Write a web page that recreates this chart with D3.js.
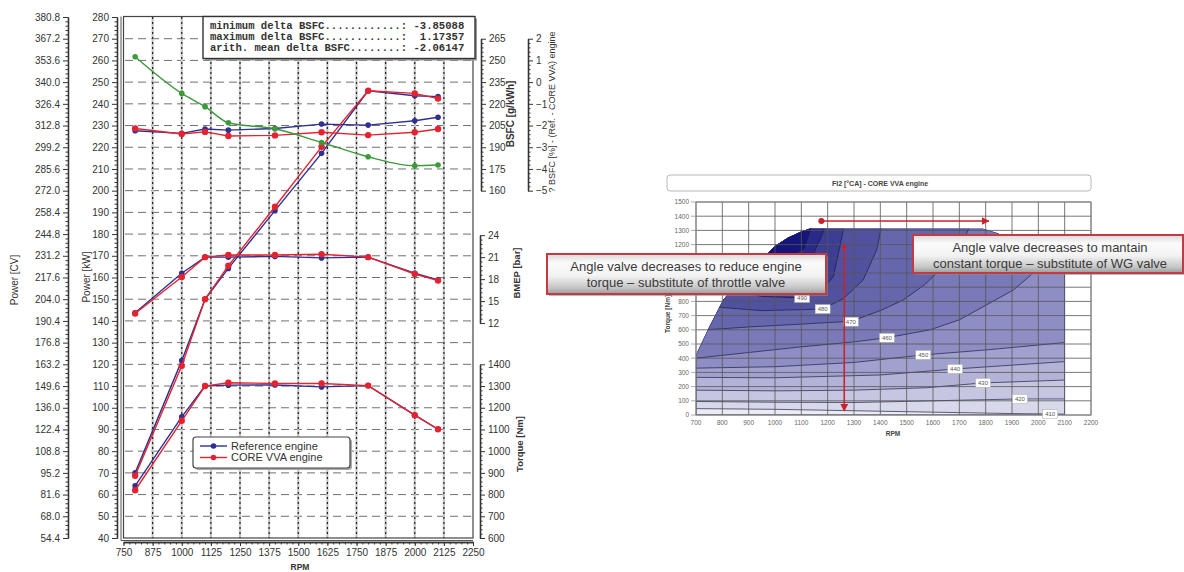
<!DOCTYPE html>
<html><head><meta charset="utf-8">
<script src="https://cdn.jsdelivr.net/npm/d3@7"></script>
<style>
html,body{margin:0;padding:0;background:#fff;}
svg{display:block;font-family:"Liberation Sans",Arial,sans-serif;}
</style></head><body>
<svg id="c" width="1184" height="572"></svg>
<script>
// ---------------- DATA (left chart) ----------------
const rpm = [800, 1000, 1100, 1200, 1400, 1600, 1800, 2000, 2100];
const powerRef = [70.0, 121.7, 150.0, 164.2, 190.8, 217.2, 246.0, 243.7, 243.3];
const powerVVA = [68.7, 119.3, 150.0, 165.4, 192.6, 220.2, 246.0, 244.8, 242.4];
const torqueRef = [840, 1158, 1300, 1304, 1305, 1296, 1302, 1166, 1101];
const torqueVVA = [820, 1140, 1300, 1315, 1312, 1312, 1302, 1166, 1101];
const bmepRef = [13.4, 18.8, 21.0, 21.0, 21.1, 20.9, 21.0, 18.8, 17.9];
const bmepVVA = [13.3, 18.3, 21.0, 21.3, 21.3, 21.4, 21.0, 18.7, 17.8];
const bsfcRef = [201.4, 199.6, 202.6, 201.8, 203.0, 206.0, 205.3, 208.3, 210.7];
const bsfcVVA = [203.0, 199.2, 200.6, 197.8, 198.2, 200.4, 198.4, 200.4, 202.6];
const deltaBsfc = [1.17, -0.52, -1.13, -1.87, -2.15, -2.78, -3.44, -3.85, -3.82];

const rpmTicks = [750, 875, 1000, 1125, 1250, 1375, 1500, 1625, 1750, 1875, 2000, 2125, 2250];
const kwTicks = [40,50,60,70,80,90,100,110,120,130,140,150,160,170,180,190,200,210,220,230,240,250,260,270,280];
const cvTicks = [54.4,68.0,81.6,95.2,108.8,122.4,136.0,149.6,163.2,176.8,190.4,204.0,217.6,231.2,244.8,258.4,272.0,285.6,299.2,312.8,326.4,340.0,353.6,367.2,380.8];
const bsfcTicks = [160,175,190,205,220,235,250,265];
const deltaTicks = [-5,-4,-3,-2,-1,0,1,2];
const bmepTicks = [12,15,18,21,24];
const torqueTicks = [600,700,800,900,1000,1100,1200,1300,1400];

const statsLines = [
  "minimum delta BSFC............: -3.85088",
  "maximum delta BSFC............:  1.17357",
  "arith. mean delta BSFC........: -2.06147"
];
const legendNames = ["Reference engine", "CORE VVA engine"];

// ---------------- DATA (right chart) ----------------
const mapRpmTicks = [700,800,900,1000,1100,1200,1300,1400,1500,1600,1700,1800,1900,2000,2100,2200];
const mapTorqueTicks = [0,100,200,300,400,500,600,700,800,900,1000,1100,1200,1300,1400,1500];
// tick labels hidden under the annotation box in the reference
const hiddenTorqueLabels = [900,1000,1100];
const envelope = [[700,0],[700,425],[750,620],[803,810],[850,915],[900,1010],[950,1100],[1000,1190],[1050,1250],[1100,1292],[1130,1312],[1790,1312],[1843,1282],[1900,1235],[2000,1170],[2100,1100],[2100,0]];
const levels = [410,420,430,440,450,460,470,480,490,500,510];
const contour410 = [[700,45],[1000,40],[1300,30],[1600,20],[1900,10],[2100,6]];
const contour420 = [[700,95],[1000,90],[1300,88],[1600,100],[1930,113],[2100,113]];
const contour430 = [[700,175],[1000,170],[1300,175],[1576,192],[1790,226],[2100,246]];
const contour440 = [[700,265],[1000,262],[1400,282],[1684,324],[2100,376]];
const contour450 = [[700,330],[1000,340],[1300,370],[1563,423],[1800,458],[2100,510]];
const contour460 = [[700,400],[900,440],[1100,480],[1300,515],[1425,544],[1589,600],[1700,670],[1791,763],[1905,880],[1994,1021],[2060,1150],[2090,1320]];
const contour470 = [[740,600],[900,620],[1100,640],[1288,660],[1400,735],[1487,810],[1570,920],[1639,1045],[1700,1180],[1728,1280],[1740,1330]];
const contour480 = [[780,760],[950,735],[1181,746],[1260,820],[1335,951],[1386,1162],[1405,1330]];
const contour490 = [[830,880],[950,835],[1103,824],[1171,868],[1222,974],[1253,1244],[1262,1330]];
const contour500 = [[880,980],[1000,970],[1095,1045],[1150,1150],[1184,1290],[1190,1330]];
const contour510 = [[950,1100],[1050,1110],[1110,1170],[1140,1330]];
const contours = [contour410,contour420,contour430,contour440,contour450,contour460,contour470,contour480,contour490,contour500,contour510];
const contourLabels = [[490,1103,824],[480,1181,746],[470,1288,657],[460,1425,544],[450,1563,423],[440,1684,324],[430,1790,226],[420,1930,113],[410,2045,6]];
const mapTitle = "FI2 [°CA] - CORE VVA engine";
const noteLeft = ["Angle valve decreases to reduce engine", "torque – substitute of throttle valve"];
const noteRight = ["Angle valve decreases to mantain", "constant torque – substitute of WG valve"];
const arrowH = [[1176,1366],[1812,1366]];
const arrowV = [[1263,1183],[1263,28]];

// ---------------- DRAW ----------------
const svg = d3.select("#c");
const FONT = "'Liberation Sans', Arial, sans-serif";
const defs = svg.append("defs");

const x = d3.scaleLinear().domain([750,2250]).range([123.5,473]);
const yKW = d3.scaleLinear().domain([40,280]).range([538,17]);
const yCV = d3.scaleLinear().domain([54.4,380.8]).range([538,17]);
const yBSFC = d3.scaleLinear().domain([160,265]).range([yKW(200), yKW(270)]);
const yDelta = d3.scaleLinear().domain([-5,2]).range([yKW(200), yKW(270)]);
const yBMEP = d3.scaleLinear().domain([12,24]).range([yKW(139), yKW(179.5)]);
const yTq = d3.scaleLinear().domain([600,1400]).range([yKW(40), yKW(120)]);

// grid
const gGrid = svg.append("g");
gGrid.selectAll("line.h").data(kwTicks.slice(1,-1)).join("line").attr("class","h")
  .attr("x1",125).attr("x2",473).attr("y1",d=>yKW(d)).attr("y2",d=>yKW(d))
  .attr("stroke","#707070").attr("stroke-width",1).attr("stroke-dasharray","8,5");
gGrid.selectAll("line.v").data(rpmTicks.slice(1,-1)).join("line").attr("class","v")
  .attr("x1",d=>x(d)).attr("x2",d=>x(d)).attr("y1",17).attr("y2",538)
  .attr("stroke","#c4c4c4").attr("stroke-width",2.2);
gGrid.selectAll("line.v2").data(rpmTicks.slice(1,-1)).join("line").attr("class","v2")
  .attr("x1",d=>x(d)).attr("x2",d=>x(d)).attr("y1",17).attr("y2",538)
  .attr("stroke","#222").attr("stroke-width",1.2).attr("stroke-dasharray","2,3");

// frame
svg.append("rect").attr("x",123.5).attr("y",16.5).attr("width",473-123.5).attr("height",538-16.5)
  .attr("fill","none").attr("stroke","#444").attr("stroke-width",1.2);
svg.append("line").attr("x1",121).attr("x2",121).attr("y1",16.5).attr("y2",540.5).attr("stroke","#555").attr("stroke-width",1);
svg.append("line").attr("x1",121).attr("x2",473).attr("y1",540.5).attr("y2",540.5).attr("stroke","#555").attr("stroke-width",1);

function styleAxis(g, fs){
  g.attr("font-family",FONT).attr("font-size",fs);
  g.selectAll("path.domain").attr("stroke","#333").attr("stroke-width",1.3);
  g.selectAll("line").attr("stroke","#333");
  g.selectAll("text").attr("fill","#333");
}
function vAxis(scale, xPos, major, nSub, orient, fmt, fs){
  const g = svg.append("g").attr("transform",`translate(${xPos},0)`);
  const minor = [];
  for(let i=0;i<major.length-1;i++){
    for(let k=1;k<nSub;k++) minor.push(major[i]+(major[i+1]-major[i])*k/nSub);
  }
  const mk = orient==="left" ? d3.axisLeft : d3.axisRight;
  g.append("g").call(mk(scale).tickValues(minor).tickSize(2.5).tickSizeOuter(0).tickFormat(""));
  g.append("g").call(mk(scale).tickValues(major).tickSize(5).tickSizeOuter(0).tickFormat(fmt).tickPadding(3));
  styleAxis(g, fs);
  return g;
}
vAxis(yCV, 68, cvTicks, 5, "left", d3.format(".1f"), 10);
vAxis(yKW, 117, kwTicks, 5, "left", d3.format("d"), 10);
vAxis(yBSFC, 481, bsfcTicks, 5, "right", d3.format("d"), 9);
vAxis(yDelta, 528, deltaTicks, 5, "right", d3.format("d"), 9);
vAxis(yBMEP, 480, bmepTicks, 5, "right", d3.format("d"), 10);
vAxis(yTq, 480, torqueTicks, 5, "right", d3.format("d"), 10);

// x axis
const gx = svg.append("g").attr("transform","translate(0,542)");
gx.append("g").call(d3.axisBottom(x).tickValues(d3.range(750,2251,25)).tickSize(2.5).tickSizeOuter(0).tickFormat(""));
gx.append("g").call(d3.axisBottom(x).tickValues(rpmTicks).tickSize(4).tickSizeOuter(0).tickFormat(d3.format("d")).tickPadding(3));
styleAxis(gx, 9.5);

// axis titles
function vTitle(txt, cx, cy, fs, weight){
  svg.append("text").attr("transform",`translate(${cx},${cy}) rotate(-90)`)
    .attr("text-anchor","middle").attr("dominant-baseline","middle")
    .attr("font-family",FONT).attr("font-size",fs).attr("font-weight",weight||"normal")
    .attr("fill","#333").text(txt);
}
vTitle("Power [CV]", 15, 280, 10);
vTitle("Power [kW]", 87, 277, 10);
vTitle("BSFC [g/kWh]", 511, 114, 10, "bold");
vTitle("? BSFC [%] - (Ref. - CORE VVA) engine", 553, 112, 9);
vTitle("BMEP [bar]", 517, 273, 9.5, "bold");
vTitle("Torque [Nm]", 520, 444, 9.5, "bold");
svg.append("text").attr("x",300).attr("y",570).attr("text-anchor","middle")
  .attr("font-family",FONT).attr("font-size",8.5).attr("font-weight","bold").attr("fill","#333").text("RPM");

// series
const gS = svg.append("g");
const BLUE = "#2e3192", RED = "#e32430", GREEN = "#3c9a3c";
function series(vals, yS, color, r, curve){
  const pts = rpm.map((v,i)=>[x(v), yS(vals[i])]);
  gS.append("path").attr("d", d3.line().curve(curve||d3.curveLinear)(pts))
    .attr("fill","none").attr("stroke",color).attr("stroke-width",1.4);
  gS.append("g").selectAll("circle").data(pts).join("circle")
    .attr("cx",d=>d[0]).attr("cy",d=>d[1]).attr("r",r).attr("fill",color);
}
series(powerRef, yKW, BLUE, 2.8);
series(torqueRef, yTq, BLUE, 2.8);
series(bmepRef, yBMEP, BLUE, 2.8);
series(bsfcRef, yBSFC, BLUE, 2.8);
series(powerVVA, yKW, RED, 3.2);
series(torqueVVA, yTq, RED, 3.2);
series(bmepVVA, yBMEP, RED, 3.2);
series(bsfcVVA, yBSFC, RED, 3.2);
series(deltaBsfc, yDelta, GREEN, 2.8, d3.curveMonotoneX);

// stats box
const gB = svg.append("g");
gB.append("rect").attr("x",205).attr("y",18.5).attr("width",272).attr("height",42).attr("fill","#999");
gB.append("rect").attr("x",203).attr("y",16.5).attr("width",272).attr("height",42)
  .attr("fill","#fff").attr("stroke","#333").attr("stroke-width",1.4);
gB.selectAll("text").data(statsLines).join("text")
  .attr("x",210).attr("y",(d,i)=>29+i*11)
  .attr("font-family","'Liberation Mono','DejaVu Sans Mono',monospace").attr("font-size",10.6)
  .attr("font-weight","bold").attr("fill","#333").attr("xml:space","preserve").style("white-space","pre")
  .text(d=>d);

// legend
const gL = svg.append("g");
gL.append("rect").attr("x",195).attr("y",439).attr("width",157).attr("height",31).attr("rx",3).attr("fill","#aaa");
gL.append("rect").attr("x",193).attr("y",437).attr("width",157).attr("height",31).attr("rx",3)
  .attr("fill","#fff").attr("stroke","#444").attr("stroke-width",1.2);
[BLUE, RED].forEach((c,i)=>{
  const yy = 446 + i*11.5;
  gL.append("line").attr("x1",200).attr("x2",227).attr("y1",yy).attr("y2",yy).attr("stroke",c).attr("stroke-width",1.4);
  gL.append("circle").attr("cx",213.5).attr("cy",yy).attr("r",2.8).attr("fill",c);
  gL.append("text").attr("x",231).attr("y",yy+3.8).attr("font-family",FONT).attr("font-size",11)
    .attr("fill","#333").text(legendNames[i]);
});

// ---------------- RIGHT CHART ----------------
const xR = d3.scaleLinear().domain([700,2200]).range([696,1091]);
const yR = d3.scaleLinear().domain([0,1500]).range([415,202]);
const lineR = d3.line().x(d=>xR(d[0])).y(d=>yR(d[1]));

// title box
svg.append("rect").attr("x",667).attr("y",175).attr("width",424).attr("height",16).attr("rx",3)
  .attr("fill","#fff").attr("stroke","#b8b8b8").attr("stroke-width",1);
svg.append("text").attr("x",880).attr("y",185.5).attr("text-anchor","middle")
  .attr("font-family",FONT).attr("font-size",7).attr("font-weight","bold").attr("fill","#444").text(mapTitle);

defs.append("clipPath").attr("id","env").append("path").attr("d", lineR(envelope)+"Z");
const ramp = d3.scaleLinear().domain([0,0.45,1]).range(["#ebebf4","#8f8fc6","#15157a"]).interpolate(d3.interpolateRgb);
const gC = svg.append("g").attr("clip-path","url(#env)");
gC.append("rect").attr("x",696).attr("y",202).attr("width",395).attr("height",213).attr("fill",ramp(0));
contours.forEach((c,i)=>{
  const first = c[0], last = c[c.length-1];
  const poly = c.concat([[last[0],1700],[600,1700],[600,first[1]]]);
  gC.append("path").attr("d", lineR(poly)+"Z").attr("fill", ramp((i+1)/levels.length));
});
contours.forEach(c=>{
  gC.append("path").attr("d", lineR(c)).attr("fill","none").attr("stroke","#1a1a40").attr("stroke-width",0.9).attr("stroke-opacity",0.75);
});
gC.append("path").attr("d", lineR(envelope)+"Z").attr("fill","none").attr("stroke","#2a2a70").attr("stroke-width",1);

// grid
const gRG = svg.append("g");
gRG.selectAll("line.v").data(mapRpmTicks).join("line").attr("class","v")
  .attr("x1",d=>xR(d)).attr("x2",d=>xR(d)).attr("y1",202).attr("y2",415)
  .attr("stroke","#555").attr("stroke-width",0.8);
gRG.selectAll("line.h").data(mapTorqueTicks).join("line").attr("class","h")
  .attr("x1",696).attr("x2",1091).attr("y1",d=>yR(d)).attr("y2",d=>yR(d))
  .attr("stroke","#555").attr("stroke-width",0.8);
svg.append("rect").attr("x",696).attr("y",202).attr("width",395).attr("height",213)
  .attr("fill","none").attr("stroke","#888").attr("stroke-width",1);

// ticks & labels
const gRT = svg.append("g").attr("font-family",FONT).attr("font-size",6.5).attr("fill","#666");
gRT.selectAll("text.y").data(mapTorqueTicks.filter(d=>!hiddenTorqueLabels.includes(d))).join("text").attr("class","y")
  .attr("x",689).attr("y",d=>yR(d)+2.3).attr("text-anchor","end").text(d=>d);
gRT.selectAll("line.yt").data(mapTorqueTicks).join("line").attr("class","yt")
  .attr("x1",691).attr("x2",696).attr("y1",d=>yR(d)).attr("y2",d=>yR(d)).attr("stroke","#888").attr("stroke-width",0.7);
gRT.selectAll("text.x").data(mapRpmTicks).join("text").attr("class","x")
  .attr("x",d=>xR(d)).attr("y",425).attr("text-anchor","middle").text(d=>d);
svg.append("text").attr("x",893).attr("y",436).attr("text-anchor","middle")
  .attr("font-family",FONT).attr("font-size",6.5).attr("font-weight","bold").attr("fill","#444").text("RPM");
svg.append("text").attr("transform",`translate(670,314) rotate(-90)`).attr("text-anchor","middle")
  .attr("font-family",FONT).attr("font-size",6.5).attr("font-weight","bold").attr("fill","#444").text("Torque [Nm]");

// contour labels
const gCL = svg.append("g");
contourLabels.forEach(([lv,r,t])=>{
  const cx = xR(r), cy = yR(t);
  gCL.append("rect").attr("x",cx-7.5).attr("y",cy-4.5).attr("width",15).attr("height",9)
    .attr("fill","#fff").attr("stroke","#aaa").attr("stroke-width",0.5);
  gCL.append("text").attr("x",cx).attr("y",cy+2.2).attr("text-anchor","middle")
    .attr("font-family",FONT).attr("font-size",6).attr("fill","#555").text(lv);
});

// arrows
const RED2 = "#c8232c";
defs.append("marker").attr("id","ah").attr("viewBox","0 0 10 10").attr("refX",9).attr("refY",5)
  .attr("markerWidth",5).attr("markerHeight",5).attr("orient","auto")
  .append("path").attr("d","M0,0 L10,5 L0,10 Z").attr("fill",RED2);
svg.append("path").attr("d", lineR(arrowH)).attr("stroke",RED2).attr("stroke-width",1.6).attr("fill","none").attr("marker-end","url(#ah)");
svg.append("circle").attr("cx",xR(arrowH[0][0])).attr("cy",yR(arrowH[0][1])).attr("r",3).attr("fill",RED2);
svg.append("path").attr("d", lineR(arrowV)).attr("stroke",RED2).attr("stroke-width",1.6).attr("fill","none").attr("marker-end","url(#ah)");
svg.append("rect").attr("x",xR(arrowV[0][0])-2).attr("y",yR(arrowV[0][1])-2).attr("width",4).attr("height",4).attr("fill",RED2);

// annotation boxes
const g1 = defs.append("linearGradient").attr("id","boxg").attr("x1",0).attr("y1",0).attr("x2",0).attr("y2",1);
[["0","#d8d8d8"],["0.22","#fbfbfb"],["0.55","#f2f2f2"],["0.85","#c4c4c4"],["1","#9a9a9a"]].forEach(s=>
  g1.append("stop").attr("offset",s[0]).attr("stop-color",s[1]));
function note(x0,y0,w,h,lines,cx,ys){
  svg.append("rect").attr("x",x0+2).attr("y",y0+2).attr("width",w).attr("height",h).attr("fill","#8a8a8a").attr("opacity",0.6);
  svg.append("rect").attr("x",x0).attr("y",y0).attr("width",w).attr("height",h)
    .attr("fill","url(#boxg)").attr("stroke","#c43a44").attr("stroke-width",2);
  lines.forEach((t,i)=>svg.append("text").attr("x",cx).attr("y",ys[i]).attr("text-anchor","middle")
    .attr("font-family",FONT).attr("font-size",13).attr("fill","#3a3a3a").text(t));
}
note(547,254,279,40,noteLeft,686,[270.5,287]);
note(913,235,270,38,noteRight,1050,[252,268]);
</script>
</body></html>
